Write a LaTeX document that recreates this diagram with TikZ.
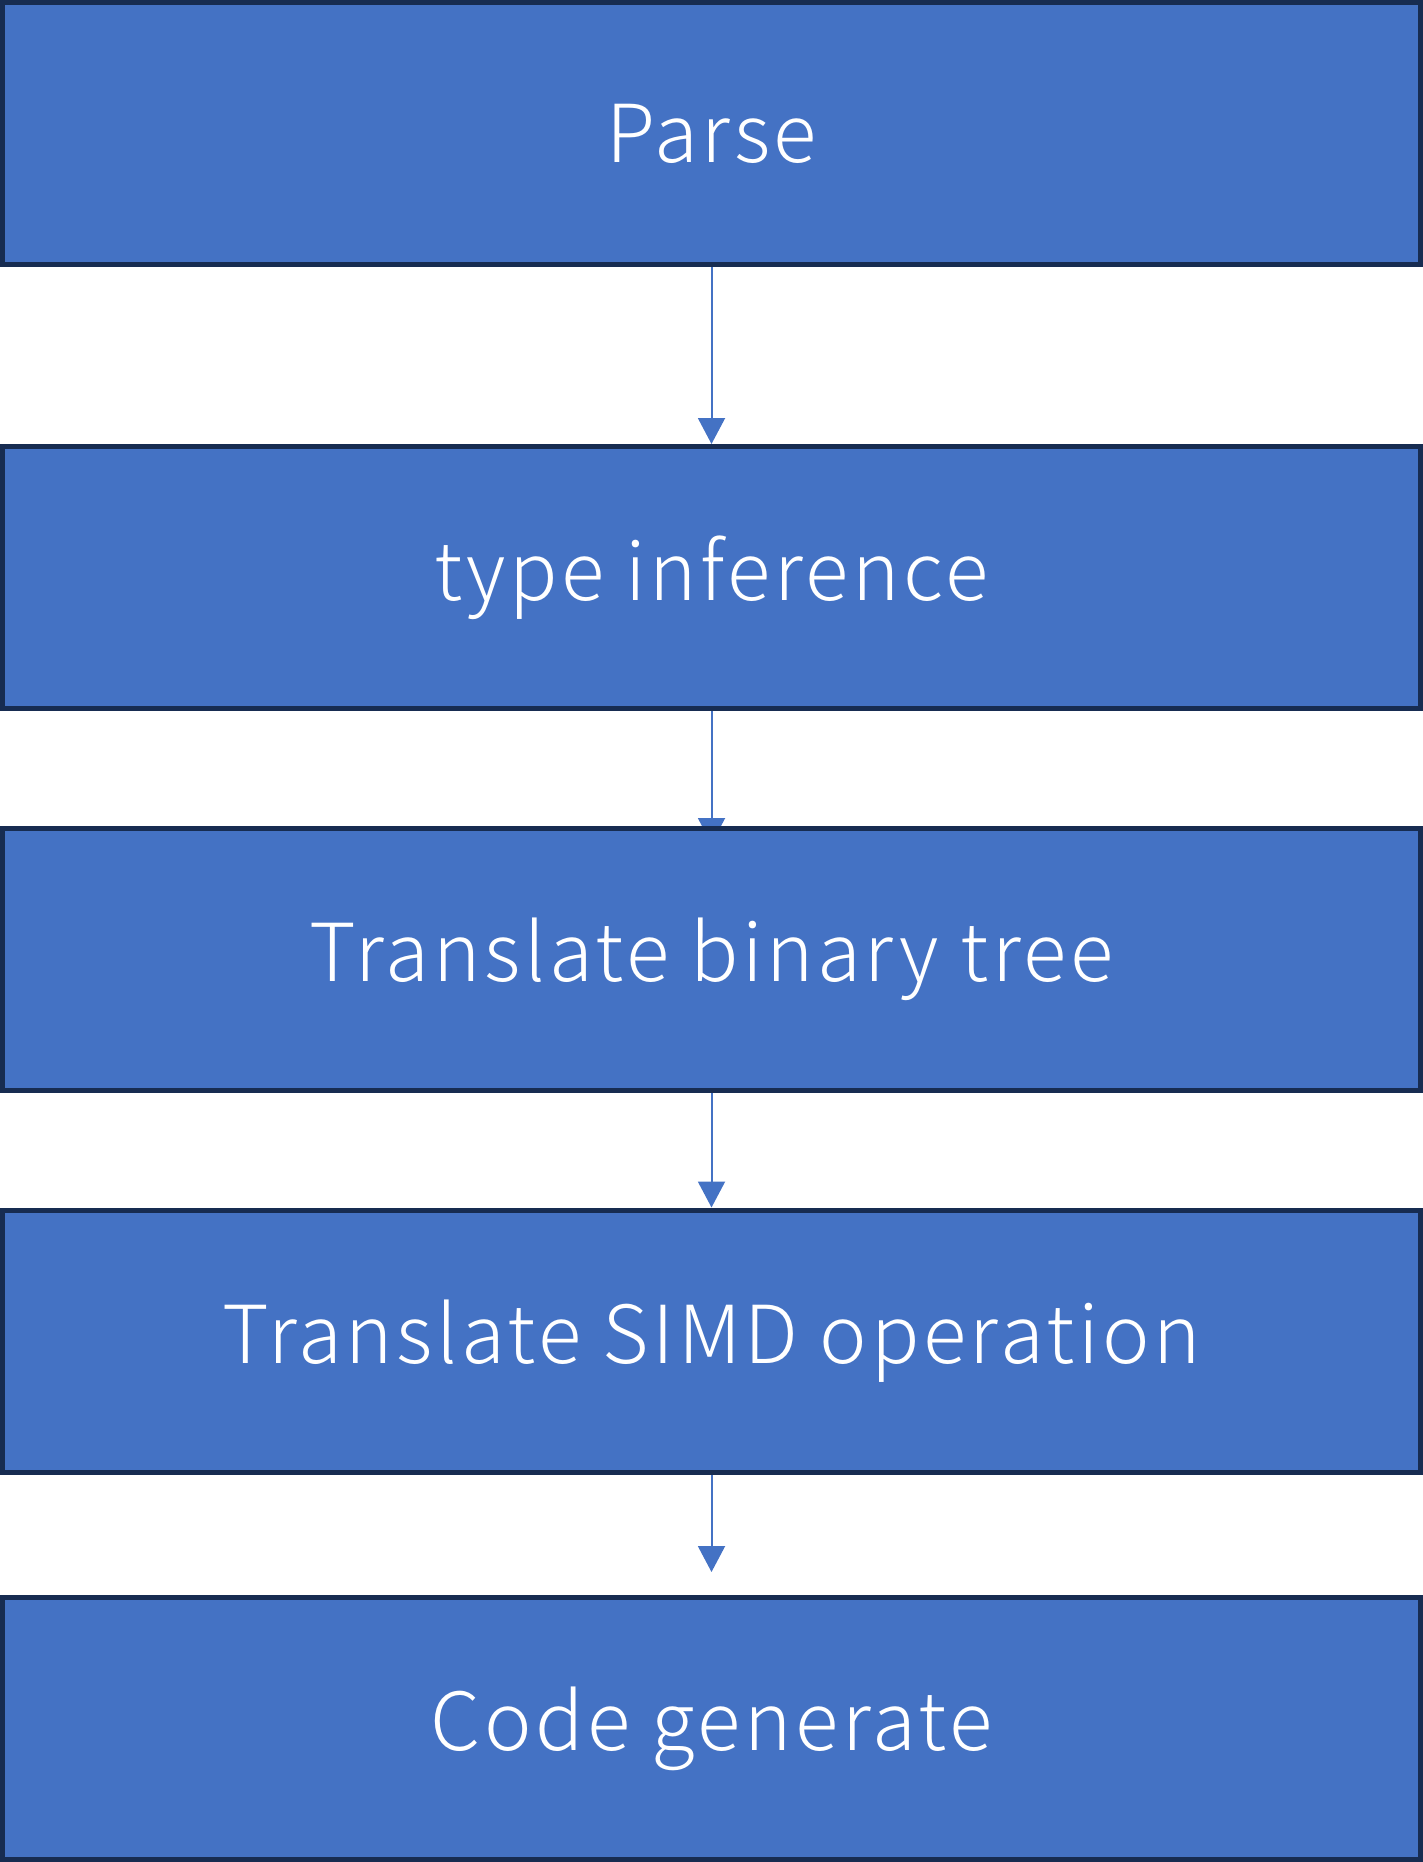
\documentclass[tikz,border=0pt]{standalone}
\usepackage{fontspec}
\setmainfont{Noto Sans CJK JP Light}[LetterSpace=4.5]
\usetikzlibrary{arrows.meta,backgrounds}
\definecolor{boxfill}{HTML}{4472C4}
\definecolor{boxline}{HTML}{172C51}
\definecolor{flowline}{HTML}{4472C4}
\begin{document}
\begin{tikzpicture}[x=0.5pt,y=-0.5pt,
  stage/.style={draw=boxline, fill=boxfill, line width=2.5pt,
    minimum width=709pt, minimum height=131pt, inner sep=0pt,
    text=white, font=\fontsize{40}{48}\selectfont},
  flow/.style={draw=flowline, line width=1pt,
    -{Triangle[width=13.5pt,length=13pt]}}]
\useasboundingbox (0,0) rectangle (1423,1862);
\node[stage] (parse) at (711.5,133.5) {Parse};
\node[stage] (infer) at (711.5,577.5) {type inference};
\node[stage] (tree)  at (711.5,959.5) {Translate binary tree};
\node[stage] (simd)  at (711.5,1341) {Translate SIMD operation};
\node[stage] (gen)   at (711.5,1728.5) {Code generate};
\begin{scope}[on background layer]
\draw[flow] (parse) -- (infer);
\draw[flow, shorten >=-9pt] (infer) -- (tree);
\draw[flow] (tree) -- (simd);
\draw[flow, shorten >=11.5pt] (simd) -- (gen);
\end{scope}
\end{tikzpicture}
\end{document}
